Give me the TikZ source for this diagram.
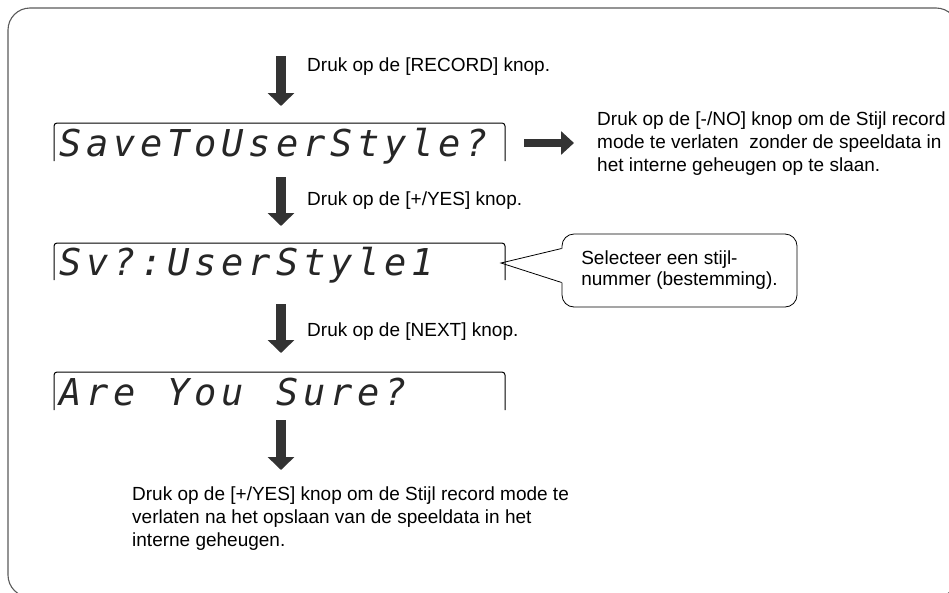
\documentclass[tikz,border=0pt]{standalone}
\usepackage{fontspec}
\setmainfont{Liberation Sans}
\newfontfamily\lcdfont{DejaVu Sans Mono}
\usetikzlibrary{arrows.meta}
\definecolor{ink}{HTML}{333333}
\definecolor{edge}{HTML}{5A5A5A}

\begin{document}
\begin{tikzpicture}[x=1pt,y=-1pt,
    txt/.style={inner sep=0pt,anchor=north west,align=left,font=\fontsize{19}{23}\selectfont},
    lcd/.style={inner sep=0pt,anchor=base west,text=black!85,font=\lcdfont\itshape\fontsize{37}{37}\selectfont},
    flow/.style={ink,line width=10pt,-{Triangle[width=26pt,length=13pt]}},
    lcdbox/.style={line width=1pt,rounded corners=3pt},
    note/.style={draw,line width=0.8pt,rounded corners=12pt,minimum width=235pt,minimum height=73pt,align=left,font=\fontsize{19}{21}\selectfont}]
  \useasboundingbox (0,0) rectangle (949,592);
  \draw[edge,line width=1.1pt,rounded corners=22pt] (8,8) rectangle (958,597);

  % callout first, the displays go over it
  \node[note] (note) at (679.5,270.5) {Selecteer een stijl-\\nummer (bestemming).};
  \coordinate (tip) at (501,263);
  \fill[white] ([yshift=22pt]note.west) -- (tip) -- ([yshift=-12pt]note.west)
    -- ([xshift=1.5pt,yshift=-12pt]note.west) -- ([xshift=1.5pt,yshift=22pt]note.west) -- cycle;

  % the three displays
  \foreach \n/\t/\b/\s in {sa/123/161/{S,a,v,e,T,o,U,s,e,r,S,t,y,l,e,?},
                           sv/243/280/{S,v,?,:,U,s,e,r,S,t,y,l,e,1},
                           ay/372/410/{A,r,e,{},Y,o,u,{},S,u,r,e,?}} {
    \draw[lcdbox] (54,\b) |- (505,\t) -- (505,\b);
    \foreach \c [count=\i from 0] in \s
      \node[lcd] (\n\i) at (59+\i*27.1,\b-5) {\c};
  }
  \draw[line width=0.8pt] ([yshift=22pt]note.west) -- (tip) -- ([yshift=-12pt]note.west);

  % arrows down
  \foreach \i/\a/\b in {1/56/106,2/177/226,3/304/353,4/420/470} {
    \coordinate (top\i) at (281,\a);
    \coordinate (end\i) at (281,\b);
    \draw[flow] (top\i) -- (end\i);
  }
  \coordinate (nofrom) at (524,143);
  \coordinate (noto) at (574,143);
  \draw[ink,line width=8pt,-{Triangle[width=23pt,length=13pt]}] (nofrom) -- (noto);

  \node[txt] (rec) at (307,58) {Druk op de [RECORD] knop.};
  \node[txt] (yes) at (307,192) {Druk op de [+/YES] knop.};
  \node[txt] (next) at (307,323) {Druk op de [NEXT] knop.};
  \node[txt] (no) at (597,112) {Druk op de [-/NO] knop om de Stijl record\\mode te verlaten\ \ zonder de speeldata in\\het interne geheugen op te slaan.};
  \node[txt] (done) at (132,487) {Druk op de [+/YES] knop om de Stijl record mode te\\verlaten na het opslaan van de speeldata in het\\interne geheugen.};
\end{tikzpicture}
\end{document}
